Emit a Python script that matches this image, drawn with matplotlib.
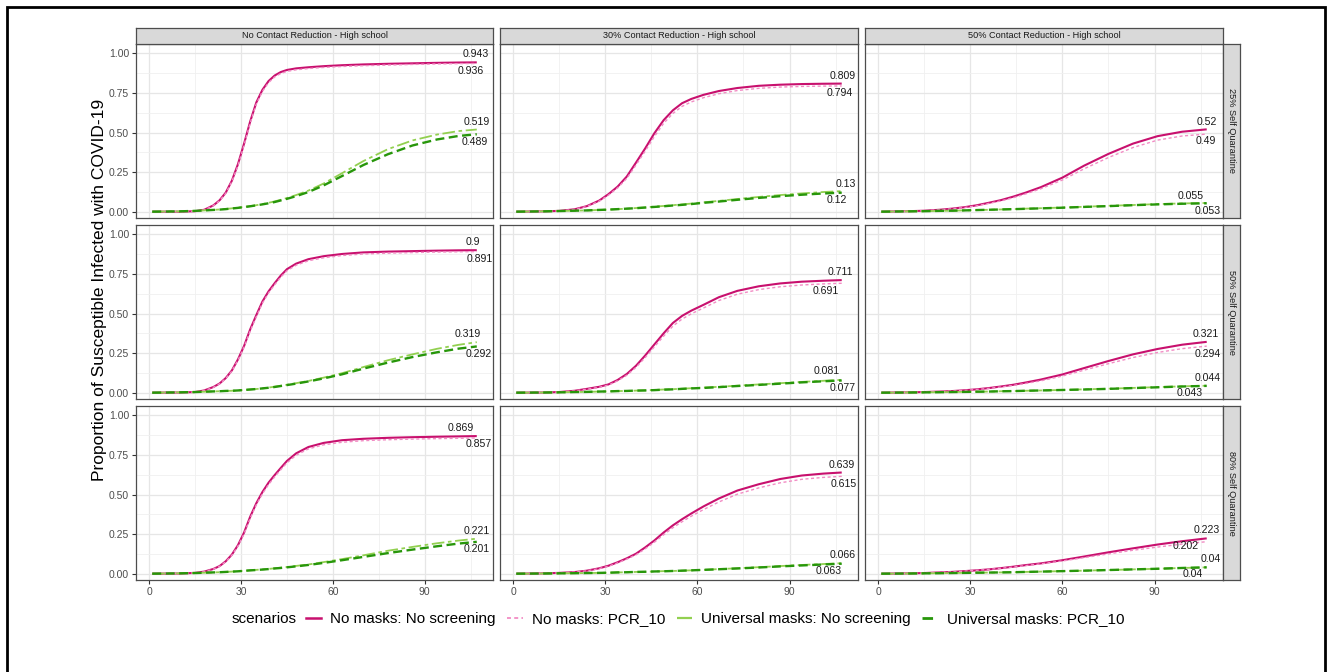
import matplotlib
matplotlib.use("Agg")
import matplotlib.pyplot as plt
from matplotlib.lines import Line2D
from matplotlib.patches import Rectangle
from matplotlib.ticker import MultipleLocator

plt.rcParams["font.family"] = ["Liberation Sans", "DejaVu Sans"]

# simulation days per contact-reduction column; faster epidemics are read on finer grids
days_fast = [1, 10, 15, 18, 21, 23, 25, 27, 29, 31, 33, 35, 37, 39, 41, 43, 45, 48, 52, 57, 63, 70, 78, 86, 94, 101, 107]
days_mid = [1, 10, 15, 20, 24, 28, 31, 34, 37, 40, 43, 46, 49, 52, 55, 58, 62, 67, 73, 80, 87, 94, 101, 107]
days = [1, 10, 15, 20, 24, 28, 32, 36, 40, 44, 48, 53, 60, 67, 75, 83, 91, 99, 107]

col_titles = ["No Contact Reduction - High school", "30% Contact Reduction - High school",
              "50% Contact Reduction - High school"]
row_titles = ["25% Self Quarantine", "50% Self Quarantine", "80% Self Quarantine"]
scenarios = ["No masks: No screening", "No masks: PCR_10",
             "Universal masks: No screening", "Universal masks: PCR_10"]

# 25% self quarantine
r1c1_nomask_noscreen = [0, 0.0, 0.003, 0.012, 0.04, 0.072, 0.12, 0.195, 0.30, 0.43, 0.57, 0.69, 0.77, 0.825, 0.86, 0.882, 0.895, 0.905, 0.912, 0.919, 0.925, 0.93, 0.934, 0.937, 0.94, 0.942, 0.943]
r1c1_nomask_pcr = [0, 0.0, 0.003, 0.011, 0.038, 0.069, 0.115, 0.19, 0.29, 0.42, 0.56, 0.68, 0.76, 0.815, 0.851, 0.873, 0.886, 0.896, 0.904, 0.911, 0.917, 0.922, 0.926, 0.93, 0.933, 0.935, 0.936]
r1c1_mask_noscreen = [0, 0.002, 0.005, 0.008, 0.011, 0.014, 0.017, 0.021, 0.025, 0.03, 0.035, 0.041, 0.048, 0.056, 0.065, 0.075, 0.086, 0.105, 0.133, 0.178, 0.243, 0.32, 0.395, 0.45, 0.487, 0.509, 0.519]
r1c1_mask_pcr = [0, 0.002, 0.005, 0.008, 0.011, 0.013, 0.016, 0.02, 0.024, 0.029, 0.034, 0.04, 0.046, 0.053, 0.061, 0.071, 0.081, 0.098, 0.124, 0.166, 0.225, 0.295, 0.363, 0.418, 0.456, 0.478, 0.489]

r1c2_nomask_noscreen = [0, 0.002, 0.005, 0.015, 0.035, 0.07, 0.11, 0.158, 0.222, 0.31, 0.4, 0.496, 0.578, 0.64, 0.685, 0.712, 0.738, 0.762, 0.781, 0.795, 0.802, 0.806, 0.808, 0.809]
r1c2_nomask_pcr = [0, 0.002, 0.005, 0.014, 0.033, 0.066, 0.104, 0.15, 0.21, 0.295, 0.383, 0.475, 0.558, 0.62, 0.665, 0.693, 0.72, 0.745, 0.765, 0.779, 0.787, 0.791, 0.793, 0.794]
r1c2_mask_noscreen = [0, 0.002, 0.004, 0.006, 0.008, 0.011, 0.013, 0.016, 0.019, 0.023, 0.027, 0.032, 0.036, 0.041, 0.046, 0.051, 0.059, 0.068, 0.08, 0.093, 0.105, 0.115, 0.124, 0.13]
r1c2_mask_pcr = [0, 0.002, 0.004, 0.006, 0.008, 0.011, 0.013, 0.016, 0.019, 0.022, 0.026, 0.03, 0.034, 0.039, 0.043, 0.048, 0.056, 0.064, 0.075, 0.087, 0.098, 0.107, 0.115, 0.12]

r1c3_nomask_noscreen = [0, 0.003, 0.006, 0.012, 0.019, 0.028, 0.04, 0.056, 0.073, 0.095, 0.12, 0.155, 0.215, 0.29, 0.365, 0.43, 0.477, 0.505, 0.52]
r1c3_nomask_pcr = [0, 0.003, 0.006, 0.012, 0.018, 0.026, 0.037, 0.052, 0.068, 0.088, 0.112, 0.145, 0.2, 0.27, 0.342, 0.405, 0.452, 0.478, 0.49]
r1c3_mask_noscreen = [0, 0.002, 0.003, 0.005, 0.006, 0.008, 0.01, 0.012, 0.014, 0.016, 0.019, 0.022, 0.026, 0.031, 0.037, 0.042, 0.048, 0.052, 0.055]
r1c3_mask_pcr = [0, 0.002, 0.003, 0.005, 0.006, 0.008, 0.01, 0.012, 0.014, 0.016, 0.018, 0.021, 0.025, 0.03, 0.035, 0.041, 0.046, 0.05, 0.053]

# 50% self quarantine
r2c1_nomask_noscreen = [0, 0.001, 0.004, 0.014, 0.036, 0.058, 0.092, 0.14, 0.21, 0.295, 0.4, 0.49, 0.576, 0.64, 0.692, 0.74, 0.78, 0.815, 0.843, 0.862, 0.876, 0.886, 0.891, 0.894, 0.897, 0.899, 0.9]
r2c1_nomask_pcr = [0, 0.001, 0.004, 0.013, 0.034, 0.056, 0.089, 0.136, 0.205, 0.288, 0.39, 0.48, 0.566, 0.63, 0.682, 0.73, 0.77, 0.805, 0.833, 0.852, 0.866, 0.876, 0.881, 0.885, 0.888, 0.89, 0.891]
r2c1_mask_noscreen = [0, 0.002, 0.004, 0.006, 0.008, 0.009, 0.011, 0.012, 0.014, 0.017, 0.02, 0.023, 0.027, 0.032, 0.038, 0.044, 0.05, 0.06, 0.074, 0.095, 0.123, 0.162, 0.205, 0.242, 0.277, 0.302, 0.319]
r2c1_mask_pcr = [0, 0.002, 0.004, 0.006, 0.008, 0.009, 0.011, 0.012, 0.014, 0.017, 0.02, 0.023, 0.027, 0.031, 0.036, 0.042, 0.048, 0.057, 0.071, 0.09, 0.116, 0.152, 0.19, 0.225, 0.255, 0.278, 0.292]

r2c2_nomask_noscreen = [0, 0.001, 0.004, 0.012, 0.024, 0.037, 0.052, 0.08, 0.118, 0.17, 0.235, 0.305, 0.375, 0.44, 0.485, 0.518, 0.555, 0.603, 0.643, 0.672, 0.69, 0.701, 0.707, 0.711]
r2c2_nomask_pcr = [0, 0.001, 0.004, 0.011, 0.022, 0.034, 0.048, 0.075, 0.11, 0.16, 0.222, 0.29, 0.357, 0.42, 0.465, 0.498, 0.535, 0.582, 0.622, 0.651, 0.669, 0.68, 0.687, 0.691]
r2c2_mask_noscreen = [0, 0.001, 0.002, 0.004, 0.005, 0.007, 0.008, 0.01, 0.011, 0.013, 0.015, 0.017, 0.02, 0.022, 0.025, 0.028, 0.032, 0.037, 0.044, 0.052, 0.06, 0.068, 0.075, 0.081]
r2c2_mask_pcr = [0, 0.001, 0.002, 0.004, 0.005, 0.007, 0.008, 0.01, 0.011, 0.013, 0.014, 0.016, 0.019, 0.021, 0.024, 0.027, 0.03, 0.035, 0.042, 0.049, 0.057, 0.065, 0.072, 0.077]

r2c3_nomask_noscreen = [0, 0.002, 0.004, 0.007, 0.01, 0.015, 0.021, 0.029, 0.039, 0.05, 0.064, 0.083, 0.115, 0.155, 0.2, 0.242, 0.276, 0.303, 0.321]
r2c3_nomask_pcr = [0, 0.002, 0.004, 0.007, 0.01, 0.014, 0.02, 0.027, 0.036, 0.046, 0.058, 0.075, 0.105, 0.142, 0.183, 0.222, 0.254, 0.278, 0.294]
r2c3_mask_noscreen = [0, 0.001, 0.002, 0.003, 0.004, 0.005, 0.006, 0.007, 0.009, 0.01, 0.012, 0.014, 0.017, 0.021, 0.025, 0.03, 0.035, 0.04, 0.044]
r2c3_mask_pcr = [0, 0.001, 0.002, 0.003, 0.004, 0.005, 0.006, 0.007, 0.009, 0.01, 0.012, 0.014, 0.017, 0.02, 0.024, 0.029, 0.034, 0.039, 0.043]

# 80% self quarantine
r3c1_nomask_noscreen = [0, 0.001, 0.005, 0.013, 0.03, 0.048, 0.078, 0.12, 0.18, 0.26, 0.36, 0.445, 0.516, 0.575, 0.623, 0.668, 0.712, 0.76, 0.8, 0.826, 0.843, 0.852, 0.858, 0.862, 0.865, 0.867, 0.869]
r3c1_nomask_pcr = [0, 0.001, 0.005, 0.012, 0.029, 0.046, 0.075, 0.116, 0.174, 0.252, 0.35, 0.435, 0.505, 0.563, 0.612, 0.657, 0.7, 0.748, 0.788, 0.814, 0.83, 0.84, 0.846, 0.85, 0.853, 0.855, 0.857]
r3c1_mask_noscreen = [0, 0.002, 0.004, 0.006, 0.008, 0.009, 0.011, 0.013, 0.015, 0.018, 0.021, 0.024, 0.027, 0.03, 0.034, 0.038, 0.042, 0.049, 0.058, 0.073, 0.092, 0.116, 0.145, 0.169, 0.192, 0.209, 0.221]
r3c1_mask_pcr = [0, 0.002, 0.004, 0.006, 0.008, 0.009, 0.011, 0.013, 0.015, 0.018, 0.021, 0.023, 0.026, 0.029, 0.033, 0.036, 0.04, 0.046, 0.055, 0.068, 0.085, 0.106, 0.13, 0.152, 0.173, 0.19, 0.201]

r3c2_nomask_noscreen = [0, 0.002, 0.005, 0.01, 0.019, 0.034, 0.05, 0.072, 0.097, 0.126, 0.166, 0.21, 0.26, 0.305, 0.344, 0.38, 0.425, 0.475, 0.525, 0.565, 0.598, 0.62, 0.632, 0.639]
r3c2_nomask_pcr = [0, 0.002, 0.005, 0.01, 0.018, 0.032, 0.047, 0.068, 0.092, 0.119, 0.157, 0.199, 0.246, 0.29, 0.328, 0.363, 0.405, 0.453, 0.502, 0.542, 0.574, 0.596, 0.608, 0.615]
r3c2_mask_noscreen = [0, 0.001, 0.002, 0.003, 0.004, 0.005, 0.006, 0.008, 0.009, 0.011, 0.012, 0.014, 0.016, 0.017, 0.019, 0.021, 0.024, 0.029, 0.034, 0.041, 0.048, 0.055, 0.061, 0.066]
r3c2_mask_pcr = [0, 0.001, 0.002, 0.003, 0.004, 0.005, 0.006, 0.008, 0.009, 0.011, 0.012, 0.014, 0.015, 0.017, 0.019, 0.021, 0.024, 0.028, 0.033, 0.039, 0.046, 0.052, 0.058, 0.063]

r3c3_nomask_noscreen = [0, 0.002, 0.004, 0.008, 0.011, 0.016, 0.021, 0.027, 0.035, 0.044, 0.054, 0.065, 0.085, 0.108, 0.135, 0.16, 0.184, 0.205, 0.223]
r3c3_nomask_pcr = [0, 0.002, 0.004, 0.008, 0.011, 0.016, 0.021, 0.027, 0.034, 0.042, 0.051, 0.062, 0.08, 0.101, 0.125, 0.148, 0.168, 0.187, 0.202]
r3c3_mask_noscreen = [0, 0.001, 0.002, 0.003, 0.004, 0.005, 0.006, 0.007, 0.008, 0.009, 0.011, 0.013, 0.016, 0.019, 0.023, 0.027, 0.031, 0.036, 0.04]
r3c3_mask_pcr = [0, 0.001, 0.002, 0.003, 0.004, 0.005, 0.006, 0.007, 0.008, 0.009, 0.011, 0.013, 0.016, 0.019, 0.023, 0.027, 0.031, 0.036, 0.04]

col_days = [days_fast, days_mid, days]
panels = [
    [[r1c1_nomask_noscreen, r1c1_nomask_pcr, r1c1_mask_noscreen, r1c1_mask_pcr],
     [r1c2_nomask_noscreen, r1c2_nomask_pcr, r1c2_mask_noscreen, r1c2_mask_pcr],
     [r1c3_nomask_noscreen, r1c3_nomask_pcr, r1c3_mask_noscreen, r1c3_mask_pcr]],
    [[r2c1_nomask_noscreen, r2c1_nomask_pcr, r2c1_mask_noscreen, r2c1_mask_pcr],
     [r2c2_nomask_noscreen, r2c2_nomask_pcr, r2c2_mask_noscreen, r2c2_mask_pcr],
     [r2c3_nomask_noscreen, r2c3_nomask_pcr, r2c3_mask_noscreen, r2c3_mask_pcr]],
    [[r3c1_nomask_noscreen, r3c1_nomask_pcr, r3c1_mask_noscreen, r3c1_mask_pcr],
     [r3c2_nomask_noscreen, r3c2_nomask_pcr, r3c2_mask_noscreen, r3c2_mask_pcr],
     [r3c3_nomask_noscreen, r3c3_nomask_pcr, r3c3_mask_noscreen, r3c3_mask_pcr]],
]

# where the end-value labels sit (x, y offset from the line end), repelled by hand
label_spots = [
    [[(106.7, 0.05), (105.0, -0.048), (106.9, 0.05), (106.4, -0.047)],
     [(107.4, 0.05), (106.4, -0.046), (108.3, 0.045), (105.4, -0.046)],
     [(107.0, 0.049), (106.7, -0.043), (101.8, 0.046), (107.4, -0.049)]],
    [[(105.8, 0.05), (108.0, -0.047), (104.2, 0.05), (107.5, -0.047)],
     [(106.6, 0.05), (101.9, -0.046), (102.0, 0.055), (107.2, -0.046)],
     [(106.6, 0.05), (107.4, -0.047), (107.3, 0.05), (101.5, -0.046)]],
    [[(101.8, 0.049), (107.5, -0.04), (106.9, 0.05), (106.9, -0.047)],
     [(106.9, 0.05), (107.5, -0.047), (107.4, 0.05), (102.8, -0.046)],
     [(107.0, 0.05), (100.1, -0.025), (108.2, 0.05), (102.5, -0.042)]],
]

colors = ["#C8106E", "#F28CC4", "#92D050", "#27960A"]
widths = [1.5, 1.0, 1.3, 1.7]
dashes = [None, (2.2, 1.8), (7, 2, 2, 2), (3.8, 1.9)]

W, H = 1329, 672
fig = plt.figure(figsize=(W / 100, H / 100), dpi=100)


def px_rect(x0, y0, x1, y1):
    return [x0 / W, 1 - y1 / H, (x1 - x0) / W, (y1 - y0) / H]


def strip(rect, label, rotation):
    sax = fig.add_axes(rect)
    sax.set_facecolor("#D9D9D9")
    sax.set_xticks([])
    sax.set_yticks([])
    for sp in sax.spines.values():
        sp.set_color(border)
        sp.set_linewidth(0.9)
    sax.text(0.5, 0.5, label, ha="center", va="center", rotation=rotation,
             fontsize=6.6, color="#1A1A1A", transform=sax.transAxes)


col_x = [(136, 493), (500, 858), (865, 1223)]
row_y = [(44, 218), (225, 399), (406, 580)]
border = "#4D4D4D"

for r in range(3):
    for c in range(3):
        ax = fig.add_axes(px_rect(col_x[c][0], row_y[r][0], col_x[c][1], row_y[r][1]))
        ax.set_xlim(-4.3, 112.3)
        ax.set_ylim(-0.04, 1.059)
        ax.xaxis.set_major_locator(MultipleLocator(30))
        ax.xaxis.set_minor_locator(MultipleLocator(15))
        ax.yaxis.set_major_locator(MultipleLocator(0.25))
        ax.yaxis.set_minor_locator(MultipleLocator(0.125))
        ax.grid(which="major", color="#E6E6E6", lw=0.9)
        ax.grid(which="minor", color="#F0F0F0", lw=0.6)
        ax.set_axisbelow(True)
        for sp in ax.spines.values():
            sp.set_color(border)
            sp.set_linewidth(0.9)
        ax.tick_params(which="minor", length=0)
        ax.tick_params(which="major", length=3, width=0.8, color="#333333",
                       labelsize=7.5, labelcolor="#4D4D4D", pad=2)
        if c > 0:
            ax.tick_params(axis="y", which="both", left=False, labelleft=False)
        else:
            ax.set_yticks([0, 0.25, 0.5, 0.75, 1.0])
            ax.set_yticklabels(["0.00", "0.25", "0.50", "0.75", "1.00"])
        if r < 2:
            ax.tick_params(axis="x", which="both", bottom=False, labelbottom=False)

        for i, series in enumerate(panels[r][c]):
            line, = ax.plot(col_days[c], series, color=colors[i], lw=widths[i],
                            solid_capstyle="butt", dash_capstyle="butt",
                            solid_joinstyle="round")
            if dashes[i] is not None:
                line.set_dashes(dashes[i])
            lx, dy = label_spots[r][c][i]
            ax.text(lx, series[-1] + dy, f"{series[-1]:g}", fontsize=7.6,
                    color="#1A1A1A", ha="center", va="center")

        if r == 0:
            strip(px_rect(col_x[c][0], 28, col_x[c][1], 44), col_titles[c], 0)
        if c == 2:
            strip(px_rect(1223, row_y[r][0], 1240, row_y[r][1]), row_titles[r], -90)

fig.text(100 / W, 1 - 290 / H, "Proportion of Susceptible Infected with COVID-19",
         rotation=90, ha="center", va="center", fontsize=12.5, color="#000000")

# legend along the bottom
handles = []
for i in range(4):
    h = Line2D([], [], color=colors[i], lw=widths[i] + 0.3)
    if dashes[i] is not None:
        h.set_dashes(dashes[i])
    handles.append(h)
fig.text(232 / W, 1 - 619 / H, "scenarios", ha="left", va="center", fontsize=11)
fig.legend(handles, scenarios, loc="center left", bbox_to_anchor=(306 / W, 1 - 619 / H),
           ncol=4, frameon=False, fontsize=11, handlelength=1.0, handletextpad=0.6,
           columnspacing=0.75, borderpad=0, borderaxespad=0)

# thin black frame round the figure
fig.add_artist(Rectangle((7 / W, -0.05), (1325 - 7) / W, 1 - 7 / H + 0.05,
                         transform=fig.transFigure, fill=False, edgecolor="black",
                         lw=2.0, clip_on=False))

fig.savefig("out.png", dpi=100)
